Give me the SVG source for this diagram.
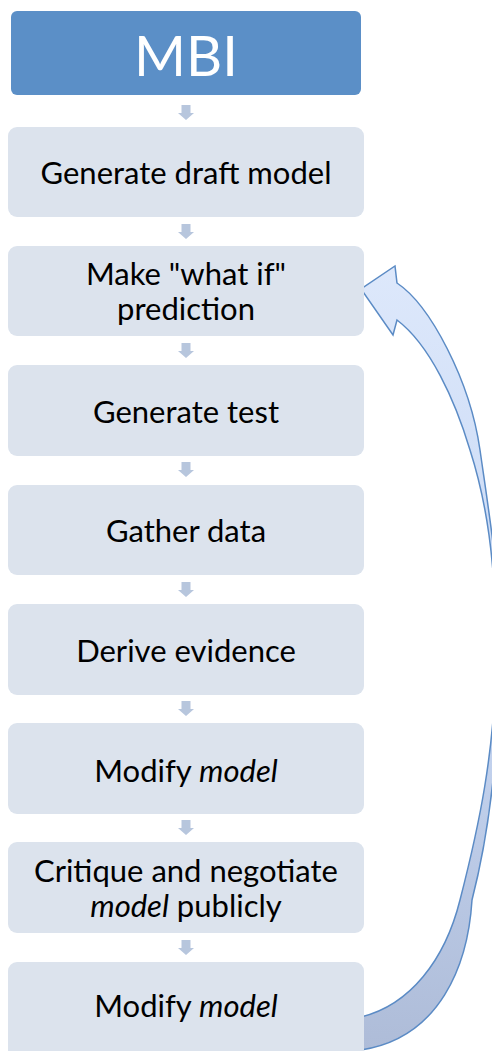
<svg xmlns="http://www.w3.org/2000/svg" width="492" height="1051" viewBox="0 0 492 1051">
<defs>
<style>
.box{fill:#DCE3ED;}
.lbl{font-family:Lato,"Liberation Sans",sans-serif;font-size:31px;fill:#000;text-anchor:middle;}
.it{font-style:italic;}
.step{fill:#B7C6DD;}
</style>
<linearGradient id="gArc" x1="0" y1="0" x2="0" y2="1">
<stop offset="0" stop-color="#DDE8FB"/>
<stop offset="0.5" stop-color="#C8D8F4"/>
<stop offset="1" stop-color="#AEBCD8"/>
</linearGradient>
<path id="dn" d="M-4.5,0 H4.5 V8 H8 L0,15 L-8,8 H-4.5 Z"/>
</defs>
<rect width="492" height="1051" fill="#FFFFFF"/>
<g id="connectors">
<use href="#dn" class="step" x="186" y="105"/>
<use href="#dn" class="step" x="186" y="224"/>
<use href="#dn" class="step" x="186" y="343"/>
<use href="#dn" class="step" x="186" y="462"/>
<use href="#dn" class="step" x="186" y="582"/>
<use href="#dn" class="step" x="186" y="701"/>
<use href="#dn" class="step" x="186" y="820"/>
<use href="#dn" class="step" x="186" y="940"/>
<path id="loop-arrow" d="M397,283 C430,305 470,380 480,450 C490,520 500,580 500,640 C500,740 490,830 472,900 C468,965 440,1038 361,1050 L361,1017 C410,1005 445,960 460,900 C478,830 496,750 496,650 C496,560 486,500 470,450 C455,400 430,345 397,320 L393,335 L361,289 L395,266 Z" fill="url(#gArc)" stroke="#5B8BC5" stroke-width="1.5" stroke-linejoin="miter"/>
</g>
<g id="node-mbi">
<rect x="11" y="11" width="350" height="84" rx="6" fill="#5B8FC7"/>
<text x="186" y="76" style="font-family:Lato,'Liberation Sans',sans-serif;font-size:56px;fill:#FFFFFF;text-anchor:middle">MBI</text>
</g>
<g id="node-1">
<rect class="box" x="8" y="127" width="356" height="90" rx="9"/>
<text class="lbl" x="186" y="184">Generate draft model</text>
</g>
<g id="node-2">
<rect class="box" x="8" y="246" width="356" height="90" rx="9"/>
<text class="lbl" x="186" y="285">Make "what if"</text>
<text class="lbl" x="186" y="320">prediction</text>
</g>
<g id="node-3">
<rect class="box" x="8" y="365" width="356" height="91" rx="9"/>
<text class="lbl" x="186" y="423">Generate test</text>
</g>
<g id="node-4">
<rect class="box" x="8" y="485" width="356" height="90" rx="9"/>
<text class="lbl" x="186" y="542">Gather data</text>
</g>
<g id="node-5">
<rect class="box" x="8" y="604" width="356" height="91" rx="9"/>
<text class="lbl" x="186" y="662">Derive evidence</text>
</g>
<g id="node-6">
<rect class="box" x="8" y="723" width="356" height="91" rx="9"/>
<text class="lbl" x="186" y="782">Modify <tspan class="it">model</tspan></text>
</g>
<g id="node-7">
<rect class="box" x="8" y="842" width="356" height="91" rx="9"/>
<text class="lbl" x="186" y="882">Critique and negotiate</text>
<text class="lbl" x="186" y="917"><tspan class="it">model</tspan> publicly</text>
</g>
<g id="node-8">
<rect class="box" x="8" y="962" width="356" height="100" rx="9"/>
<text class="lbl" x="186" y="1017">Modify <tspan class="it">model</tspan></text>
</g>
</svg>
